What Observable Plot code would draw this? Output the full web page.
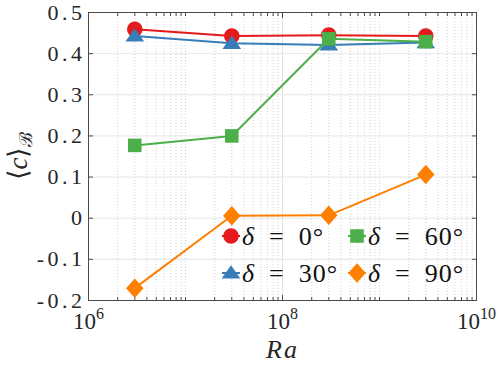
<!DOCTYPE html>
<html><head><meta charset="utf-8">
<script src="https://cdn.jsdelivr.net/npm/d3@7"></script>
<script src="https://cdn.jsdelivr.net/npm/@observablehq/plot@0.6"></script>
<style>
body{margin:0;background:#fff;}
#wrap{position:relative;width:498px;height:368px;overflow:hidden;}
#wrap svg{display:block;}
#legend{position:absolute;left:0;top:0;pointer-events:none;}
</style></head><body><div id="wrap"></div>
<script>
// ---- data ----
const ra = [3e6, 3e7, 3e8, 3e9];
const seriesNames = ["δ = 0°", "δ = 30°", "δ = 60°", "δ = 90°"];
const delta0  = [0.459, 0.443, 0.445, 0.443];
const delta30 = [0.443, 0.425, 0.421, 0.427];
const delta60 = [0.177, 0.200, 0.436, 0.429];
const delta90 = [-0.170, 0.006, 0.007, 0.106];
const seriesColors = ["#E41A1C", "#377EB8", "#4DAF4A", "#FF7F00"];
const xMajorTicks = [1e6, 1e8, 1e10];
const yTicks = [-0.2, -0.1, 0, 0.1, 0.2, 0.3, 0.4, 0.5];
const xMinorTicks = [];
for (let e = 6; e < 10; e++) for (let k = 1; k <= 9; k++) {
  const v = k * Math.pow(10, e);
  if (!(k === 1 && e % 2 === 0)) xMinorTicks.push(v);
}

// ---- custom marker shapes ----
const symCircle = {draw(c, s){ const u = Math.sqrt(s/Math.PI); c.moveTo(u, 0); c.arc(0, 0, u, 0, 2*Math.PI); }};
const symTriangle = {draw(c, s){ const u = Math.sqrt(s/Math.PI); c.moveTo(0, -1.0*u); c.lineTo(1.2*u, 0.72*u); c.lineTo(-1.2*u, 0.72*u); c.closePath(); }};
const symSquare = {draw(c, s){ const u = Math.sqrt(s/Math.PI)*0.87; c.moveTo(-u,-u); c.lineTo(u,-u); c.lineTo(u,u); c.lineTo(-u,u); c.closePath(); }};
const symDiamond = {draw(c, s){ const u = Math.sqrt(s/Math.PI); c.moveTo(0,-1.25*u); c.lineTo(1.12*u,0); c.lineTo(0,1.25*u); c.lineTo(-1.12*u,0); c.closePath(); }};
const symbols = [symCircle, symTriangle, symSquare, symDiamond];
const values = [delta0, delta30, delta60, delta90];

const rows = [];
values.forEach((vals, si) => vals.forEach((v, i) => rows.push({series: seriesNames[si], ra: ra[i], c: v})));

const AX = "#4a4a4a";
const FONT = "Liberation Serif";

const seriesMarks = [];
seriesNames.forEach((name, si) => {
  const d = rows.filter(r => r.series === name);
  seriesMarks.push(Plot.line(d, {x: "ra", y: "c", stroke: seriesColors[si], strokeWidth: 2}));
  seriesMarks.push(Plot.dot(d, {x: "ra", y: "c", r: 7.8, symbol: symbols[si], fill: seriesColors[si], stroke: "none"}));
});

const chart = Plot.plot({
  width: 498, height: 368,
  marginLeft: 88, marginRight: 22, marginTop: 12, marginBottom: 68,
  x: {type: "log", domain: [1e6, 1e10]},
  y: {domain: [-0.2, 0.5]},
  style: {background: "#fff", color: "#262626"},
  marks: [
    Plot.ruleX(xMinorTicks, {stroke: "#c8c8c8", strokeDasharray: "1,2", strokeWidth: 0.8}),
    Plot.gridX(xMajorTicks, {stroke: "#e2e2e2", strokeOpacity: 1}),
    Plot.gridY(yTicks, {stroke: "#e6e6e6", strokeOpacity: 1}),
    // inward ticks
    Plot.axisX(xMajorTicks, {anchor: "bottom", tickSize: 5, dy: -5, tickFormat: () => "", label: null, stroke: AX}),
    Plot.axisX(xMajorTicks, {anchor: "top", tickSize: 5, dy: 5, tickFormat: () => "", label: null, stroke: AX}),
    Plot.axisX(xMinorTicks, {anchor: "bottom", tickSize: 3, dy: -3, tickFormat: () => "", label: null, stroke: AX}),
    Plot.axisX(xMinorTicks, {anchor: "top", tickSize: 3, dy: 3, tickFormat: () => "", label: null, stroke: AX}),
    Plot.axisY(yTicks, {anchor: "left", tickSize: 5, dx: 5, tickFormat: () => "", label: null, stroke: AX}),
    Plot.axisY(yTicks, {anchor: "right", tickSize: 5, dx: -5, tickFormat: () => "", label: null, stroke: AX}),
    // tick labels
    Plot.axisY(yTicks, {anchor: "left", tickSize: 0, tickPadding: 3, fontSize: 22, fontFamily: FONT, tickFormat: d => d === 0 ? "0" : d.toFixed(1), label: null, fill: "#262626"}),
    Plot.axisX(xMajorTicks, {anchor: "bottom", tickSize: 0, tickPadding: 12, fontSize: 23, fontFamily: FONT, tickFormat: d => "10^" + Math.round(Math.log10(d)), label: null, fill: "#262626"}),
    Plot.frame({stroke: AX, strokeWidth: 1}),
    ...seriesMarks,
    Plot.text(["Ra"], {text: d => d, frameAnchor: "bottom", dy: 57, fontSize: 26, fontFamily: FONT, fontStyle: "italic", fill: "#262626"})
  ]
});

const wrap = document.getElementById("wrap");
wrap.appendChild(chart);
const svg = d3.select(chart);

// wider spacing on y tick labels, like the reference
svg.selectAll('g[aria-label="y-axis tick label"] text').attr("letter-spacing", 3.5);
svg.selectAll('g[aria-label="text"] text').attr("letter-spacing", 2);

// superscript exponents on x tick labels
svg.selectAll('g[aria-label="x-axis tick label"] text').each(function() {
  const t = d3.select(this);
  const s = t.text();
  const [base, exp] = s.split("^");
  t.text(null);
  t.append("tspan").text(base);
  t.append("tspan").attr("dy", -10).attr("font-size", 16).text(exp);
});

// y label  <c>_B
const yl = svg.append("text")
  .attr("transform", "translate(27,156) rotate(-90)")
  .attr("text-anchor", "middle")
  .attr("font-size", 27).attr("fill", "#262626");
yl.append("tspan").text("⟨");
yl.append("tspan").attr("font-style", "italic").text("c");
yl.append("tspan").text("⟩");
yl.append("tspan").attr("font-size", 18).attr("dy", 5).text("ℬ");

// legend overlay
const leg = d3.select(wrap).append("svg").attr("id", "legend").attr("width", 498).attr("height", 368);
const legendPos = [[231, 236], [231, 273], [357, 236], [357, 273]];
seriesNames.forEach((name, si) => {
  const [cx, cy] = legendPos[si];
  const g = leg.append("g").attr("transform", `translate(${cx},${cy})`);
  g.append("line").attr("x1", -9).attr("x2", 9).attr("stroke", seriesColors[si]).attr("stroke-width", 2);
  g.append("path").attr("d", d3.symbol(symbols[si], Math.PI * 7.8 * 7.8)()).attr("fill", seriesColors[si]);
  const t = g.append("text").attr("x", 11).attr("y", 9).attr("font-size", 26).attr("fill", "#111").attr("letter-spacing", 1);
  const deg = name.split("= ")[1];
  t.append("tspan").attr("font-style", "italic").text("δ");
  t.append("tspan").text("\u2002=\u2002" + deg);
});

d3.select(wrap).selectAll("text").attr("font-family", FONT).style("font-family", FONT);
</script></body></html>
